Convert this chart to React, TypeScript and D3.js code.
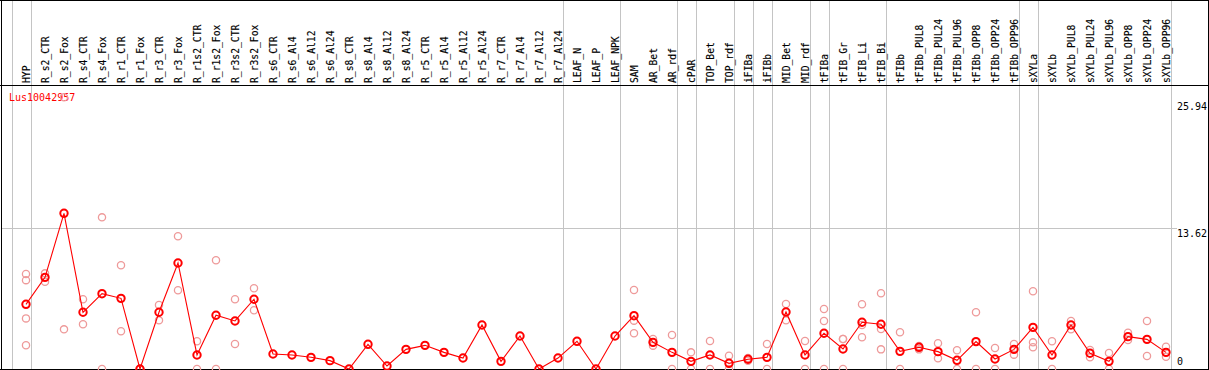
import React from "react";
import * as d3 from "d3";

const categories = [
  "HYP", "R_s2_CTR", "R_s2_Fox", "R_s4_CTR", "R_s4_Fox", "R_r1_CTR", "R_r1_Fox", "R_r3_CTR", "R_r3_Fox",
  "R_r1s2_CTR", "R_r1s2_Fox", "R_r3s2_CTR", "R_r3s2_Fox", "R_s6_CTR", "R_s6_Al4", "R_s6_Al12", "R_s6_Al24",
  "R_s8_CTR", "R_s8_Al4", "R_s8_Al12", "R_s8_Al24", "R_r5_CTR", "R_r5_Al4", "R_r5_Al12", "R_r5_Al24",
  "R_r7_CTR", "R_r7_Al4", "R_r7_Al12", "R_r7_Al24", "LEAF_N", "LEAF_P", "LEAF_NPK", "SAM", "AR_Bet", "AR_rdf",
  "cPAR", "TOP_Bet", "TOP_rdf", "iFIBa", "iFIBb", "MID_Bet", "MID_rdf", "tFIBa", "tFIB_Gr", "tFIB_Li", "tFIB_Bi",
  "tFIBb", "tFIBb_PUL8", "tFIBb_PUL24", "tFIBb_PUL96", "tFIBb_OPP8", "tFIBb_OPP24", "tFIBb_OPP96",
  "sXYLa", "sXYLb", "sXYLb_PUL8", "sXYLb_PUL24", "sXYLb_PUL96", "sXYLb_OPP8", "sXYLb_OPP24", "sXYLb_OPP96",
];

// number of consecutive categories in each separated group
const groupSizes = [1, 28, 3, 3, 1, 2, 1, 1, 2, 1, 3, 7, 1, 7];

const means = [
  6.26, 8.87, 15.07, 5.49, 7.29, 6.84, 0, 5.49, 10.26, 1.36, 5.2, 4.65, 6.75, 1.45, 1.36, 1.13, 0.81,
  0, 2.39, 0.29, 1.9, 2.29, 1.61, 1.06, 4.26, 0.74, 3.19, 0, 1.06, 2.68, 0, 3.19, 5.16, 2.58, 1.61,
  0.74, 1.36, 0.55, 0.94, 1.13, 5.52, 1.36, 3.46, 1.94, 4.52, 4.33, 1.71, 2.1, 1.68, 0.84, 2.65, 0.97,
  1.9, 4.03, 1.36, 4.26, 1.52, 0.74, 3.13, 2.87, 1.61,
];

const replicates: number[][] = [
  [9.2, 8.6, 4.9, 2.3], [9.26, 8.45], [26.3, 3.84], [6.75, 4.33], [14.68, 0], [10.04, 3.65], [0, 0],
  [6.2, 4.71], [12.85, 7.62], [2.68, 0], [10.52, 0], [6.75, 2.42], [7.81, 5.68],
  [], [], [], [], [], [], [], [], [], [], [], [], [], [], [], [], [], [], [],
  [7.65, 4.68, 3.46], [2.9, 2.26], [3.29, 0], [1.61, 0], [2.71, 0], [1.29, 0], [1.06, 0.81], [2.42, 0],
  [6.29, 4.71], [2.71, 0], [5.81, 4.65, 0], [2.9, 2.9, 0], [6.26, 4.26, 3.07], [7.33, 3.87, 1.9],
  [3.55, 0], [2.23, 1.9], [2.49, 1.03], [1.81, 0], [5.49, 0], [2.03, 0], [2.42, 1.39],
  [7.52, 2.58, 2.1], [2.68, 0], [4.65, 3.84], [1.84, 1.13], [1.55, 0], [3.51, 2.81], [4.65, 1.26], [2.16, 1.19],
];

const yTicks = [0, 13.62, 25.94];
const geneId = "Lus10042957";

const W = 1209;
const H = 370;

export default function App() {
  const x = d3.scalePoint<string>().domain(categories).range([26, 1166]);
  const step = x.step();
  const y = d3.scaleLinear().domain([0, 25.94]).range([369, 101]);

  const seps: number[] = [];
  let idx = 0;
  seps.push(x(categories[0])! - step + 4.5);
  groupSizes.forEach((g) => {
    idx += g;
    seps.push(x(categories[idx - 1])! + 4.5);
  });

  const line = d3
    .line<number>()
    .x((_, i) => x(categories[i])!)
    .y((d) => y(d));

  const mono = "'DejaVu Sans Mono', monospace";

  return (
    <svg
      width={W}
      height={H}
      style={{ position: "absolute", left: 0, top: 0, background: "#fff" }}
      shapeRendering="crispEdges"
    >
      <rect x={0} y={0} width={W} height={H} fill="#fff" />
      {seps.map((s, i) => (
        <line key={"s" + i} x1={Math.round(s) + 0.5} x2={Math.round(s) + 0.5} y1={0} y2={369} stroke="#c4c4c4" strokeWidth={1} />
      ))}
      <line x1={1} x2={1177} y1={Math.round(y(13.62)) + 0.5} y2={Math.round(y(13.62)) + 0.5} stroke="#c4c4c4" strokeWidth={1} />
      <line x1={0} x2={W} y1={0.5} y2={0.5} stroke="#000" />
      <line x1={0} x2={W} y1={85.5} y2={85.5} stroke="#000" />
      <line x1={0} x2={W} y1={369.5} y2={369.5} stroke="#000" />
      <line x1={1.5} x2={1.5} y1={0} y2={H} stroke="#000" />
      <line x1={1208.5} x2={1208.5} y1={0} y2={H} stroke="#000" />
      {categories.map((c) => (
        <text
          key={c}
          transform={`translate(${x(c)! + 4},83) rotate(-90)`}
          fontFamily={mono}
          fontSize={9.7}
          fill="#000"
          stroke="#000"
          strokeWidth={0.15}
        >
          {c}
        </text>
      ))}
      {yTicks.map((t) => (
        <text key={t} x={1177} y={t === 0 ? y(t) - 4 : y(t) + 9} fontFamily={mono} fontSize={10} fill="#000">
          {t === 0 ? "0" : t.toFixed(2)}
        </text>
      ))}
      <text x={9} y={101} fontFamily={mono} fontSize={10} fill="#ff0000">
        {geneId}
      </text>
      <g shapeRendering="auto">
        {replicates.map((reps, i) =>
          reps.map((v, j) => (
            <circle key={i + "-" + j} cx={x(categories[i])!} cy={y(v)} r={3.6} fill="none" stroke="#ee9a9a" strokeWidth={1.3} />
          ))
        )}
        <path d={line(means) || ""} fill="none" stroke="#ff0000" strokeWidth={1.1} />
        {means.map((v, i) => (
          <circle key={"m" + i} cx={x(categories[i])!} cy={y(v)} r={3.7} fill="none" stroke="#ff0000" strokeWidth={2} />
        ))}
      </g>
    </svg>
  );
}
